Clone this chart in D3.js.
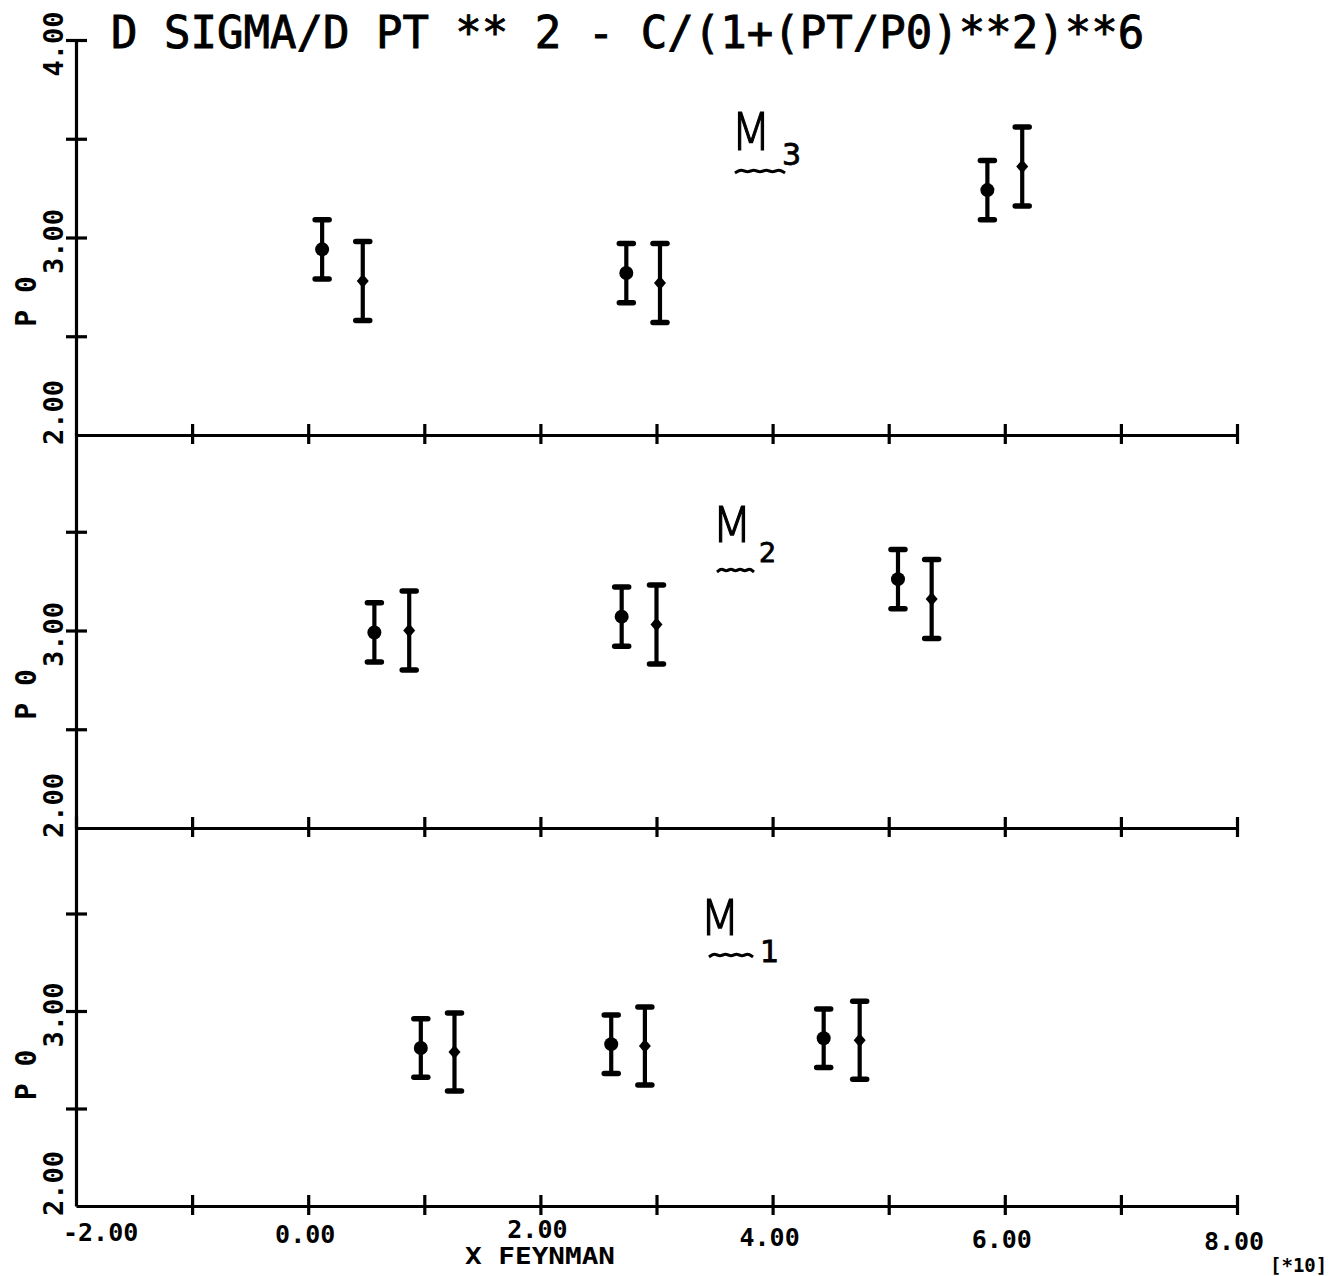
<!DOCTYPE html>
<html>
<head>
<meta charset="utf-8">
<script src="https://cdn.jsdelivr.net/npm/d3@7"></script>
<style>
  html, body { margin: 0; padding: 0; background: #fff; }
  svg { display: block; }
  text { fill: #000; }
</style>
</head>
<body>
<script>
// ---------------- data ----------------
const titleText = "D SIGMA/D PT ** 2 - C/(1+(PT/P0)**2)**6";
const xAxisTitle = "X FEYNMAN";
const xScaleNote = "[*10]";
const yAxisTitle = "P 0";
const panelNames = ["M3", "M2", "M1"];
const panelSubs = ["3", "2", "1"];

const xTickValues = [-1, 0, 1, 2, 3, 4, 5, 6, 7, 8];
const xLabelValues = [-2, 0, 2, 4, 6, 8];
const xTickLabels = ["-2.00", "0.00", "2.00", "4.00", "6.00", "8.00"];
const yTickValues = [2.5, 3.0, 3.5];
const yLabelValues = [2, 3, 4];
const yTickLabels = ["2.00", "3.00", "4.00"];

// M3 panel
const m3CircleX = [0.12, 2.74, 5.85];
const m3CircleY = [2.94, 2.82, 3.24];
const m3CircleErr = [0.15, 0.15, 0.15];
const m3DiamondX = [0.47, 3.03, 6.15];
const m3DiamondY = [2.78, 2.77, 3.36];
const m3DiamondErr = [0.20, 0.20, 0.20];

// M2 panel
const m2CircleX = [0.57, 2.70, 5.08];
const m2CircleY = [2.99, 3.07, 3.26];
const m2CircleErr = [0.15, 0.15, 0.15];
const m2DiamondX = [0.87, 3.00, 5.37];
const m2DiamondY = [3.00, 3.03, 3.16];
const m2DiamondErr = [0.20, 0.20, 0.20];

// M1 panel
const m1CircleX = [0.97, 2.61, 4.44];
const m1CircleY = [2.81, 2.83, 2.86];
const m1CircleErr = [0.15, 0.15, 0.15];
const m1DiamondX = [1.26, 2.90, 4.75];
const m1DiamondY = [2.79, 2.82, 2.85];
const m1DiamondErr = [0.20, 0.20, 0.20];

const circleSets = [
  [m3CircleX, m3CircleY, m3CircleErr],
  [m2CircleX, m2CircleY, m2CircleErr],
  [m1CircleX, m1CircleY, m1CircleErr]
];
const diamondSets = [
  [m3DiamondX, m3DiamondY, m3DiamondErr],
  [m2DiamondX, m2DiamondY, m2DiamondErr],
  [m1DiamondX, m1DiamondY, m1DiamondErr]
];

// ---------------- layout ----------------
const W = 1329, H = 1276;
const mono = "'DejaVu Sans Mono', 'Liberation Mono', monospace";
const panelBoxes = [
  { top: 40, bottom: 435 },
  { top: 433, bottom: 828 },
  { top: 816, bottom: 1206 }
];
// label placement for hand-written panel names (pixels)
const nameBoxes = [
  { mx: 731, my: 150, sx: 782, sy: 165, wx: 735, wy: 171, ww: 50, size: 52, subSize: 30 },
  { mx: 712, my: 542, sx: 759, sy: 562, wx: 717, wy: 570, ww: 37, size: 50, subSize: 27 },
  { mx: 700, my: 935, sx: 760, sy: 962, wx: 709, wy: 955, ww: 44, size: 50, subSize: 30 }
];

const svg = d3.select("body").append("svg")
  .attr("width", W).attr("height", H)
  .attr("viewBox", `0 0 ${W} ${H}`);
svg.append("rect").attr("width", W).attr("height", H).attr("fill", "#fff");

const x = d3.scaleLinear().domain([-2, 8]).range([76, 1237]);

// title
svg.append("text")
  .attr("x", 111).attr("y", 48)
  .attr("font-family", mono)
  .attr("font-size", 44)
  .attr("stroke", "#000").attr("stroke-width", 0.9)
  .text(titleText);

panelBoxes.forEach((box, i) => {
  const y = d3.scaleLinear().domain([2, 4]).range([box.bottom, box.top]);
  const g = svg.append("g");

  // bottom axis of panel
  const ax = g.append("g")
    .attr("transform", `translate(0,${box.bottom})`)
    .call(d3.axisBottom(x).tickValues(xTickValues).tickFormat("").tickSizeOuter(0));
  ax.select(".domain").attr("stroke", "#000").attr("stroke-width", 3.2);
  ax.selectAll(".tick line")
    .attr("y1", -11).attr("y2", 9)
    .attr("stroke", "#000").attr("stroke-width", 3.2);

  // left axis of panel
  const yt = i === 0 ? yTickValues.concat([4]) : yTickValues;
  const ay = g.append("g")
    .attr("transform", `translate(${x(-2)},0)`)
    .call(d3.axisLeft(y).tickValues(yt).tickFormat("").tickSizeOuter(0));
  ay.select(".domain").attr("stroke", "#000").attr("stroke-width", 3.2);
  ay.selectAll(".tick line")
    .attr("x1", -10).attr("x2", 11)
    .attr("stroke", "#000").attr("stroke-width", 3.2);

  // y tick labels (rotated)
  yLabelValues.forEach((v, k) => {
    if (v === 4 && i !== 0) return;
    let cy = y(v) + 4, anchor = "middle";
    if (v === 2) { cy = y(v) + 10; anchor = "start"; }
    g.append("text")
      .attr("transform", `translate(63,${cy}) rotate(-90)`)
      .attr("text-anchor", anchor)
      .attr("font-family", mono)
      .attr("font-weight", "bold")
      .attr("font-size", 27)
      .text(yTickLabels[k]);
  });

  // y axis title
  g.append("text")
    .attr("transform", `translate(36,${y(3) + 64}) rotate(-90)`)
    .attr("text-anchor", "middle")
    .attr("font-family", mono)
    .attr("font-weight", "bold")
    .attr("font-size", 28)
    .text(yAxisTitle);

  // error bars + markers
  const drawSet = (set, kind) => {
    const [xs, ys, es] = set;
    xs.forEach((xv, k) => {
      const px = x(xv);
      const y0 = y(ys[k] - es[k]), y1 = y(ys[k] + es[k]);
      g.append("line").attr("x1", px).attr("x2", px).attr("y1", y0).attr("y2", y1)
        .attr("stroke", "#000").attr("stroke-width", 4.2);
      [y0, y1].forEach(cy => {
        g.append("line").attr("x1", px - 7).attr("x2", px + 7).attr("y1", cy).attr("y2", cy)
          .attr("stroke", "#000").attr("stroke-width", 5.5).attr("stroke-linecap", "round");
      });
      const py = y(ys[k]);
      if (kind === "circle") {
        g.append("circle").attr("cx", px).attr("cy", py).attr("r", 7).attr("fill", "#000");
      } else {
        g.append("path")
          .attr("d", `M${px},${py - 7}L${px + 6},${py}L${px},${py + 7}L${px - 6},${py}Z`)
          .attr("fill", "#000");
      }
    });
  };
  drawSet(circleSets[i], "circle");
  drawSet(diamondSets[i], "diamond");

  // hand-written panel name
  const nb = nameBoxes[i];
  g.append("text")
    .attr("x", nb.mx).attr("y", nb.my)
    .attr("font-family", "'DejaVu Sans', sans-serif")
    .attr("font-weight", "300")
    .attr("font-size", nb.size)
    .attr("stroke", "#000").attr("stroke-width", 1.2)
    .attr("textLength", 40)
    .attr("lengthAdjust", "spacingAndGlyphs")
    .text(panelNames[i].charAt(0));
  g.append("text")
    .attr("x", nb.sx).attr("y", nb.sy)
    .attr("font-family", "'DejaVu Sans', sans-serif")
    .attr("font-size", nb.subSize)
    .attr("stroke", "#000").attr("stroke-width", 0.8)
    .text(panelSubs[i]);
  const wavePts = d3.range(0, 9).map(j => [nb.wx + j * nb.ww / 8, nb.wy + (j % 2 === 0 ? 2 : -2)]);
  g.append("path")
    .attr("d", d3.line().curve(d3.curveBasis)(wavePts))
    .attr("fill", "none").attr("stroke", "#000").attr("stroke-width", 3);
});

// x tick labels (bottom panel only)
xLabelValues.forEach((v, k) => {
  const t = svg.append("text")
    .attr("y", v === 2 ? 1238 : 1241 + (v + 2) * 0.9)
    .attr("font-family", mono)
    .attr("font-weight", "bold")
    .attr("font-size", 25)
    .text(xTickLabels[k]);
  if (v === -2) t.attr("x", 63).attr("text-anchor", "start");
  else t.attr("x", x(v) - 3).attr("text-anchor", "middle");
});

// x axis title
svg.append("text")
  .attr("x", 540).attr("y", 1264)
  .attr("text-anchor", "middle")
  .attr("font-family", mono)
  .attr("font-weight", "bold")
  .attr("font-size", 23)
  .attr("textLength", 150)
  .attr("lengthAdjust", "spacingAndGlyphs")
  .text(xAxisTitle);

// scale note
svg.append("text")
  .attr("x", 1270).attr("y", 1272)
  .attr("font-family", mono)
  .attr("font-weight", "bold")
  .attr("font-size", 19)
  .text(xScaleNote);
</script>
</body>
</html>
